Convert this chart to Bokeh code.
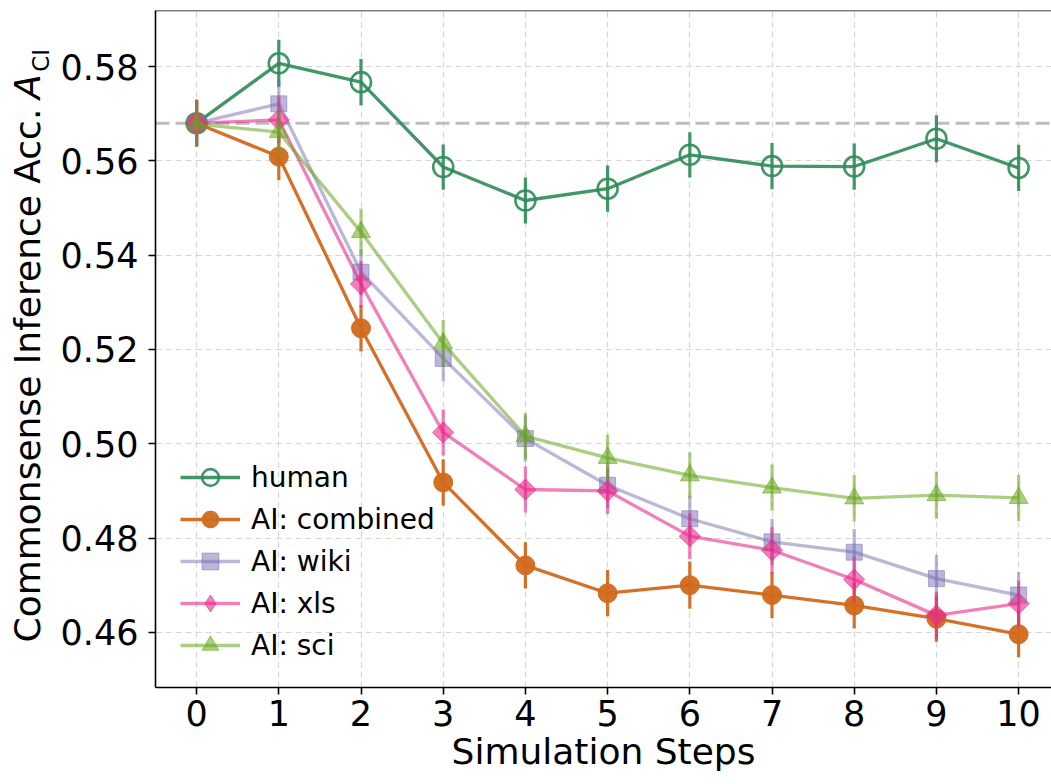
import numpy as np
from bokeh.plotting import figure
from bokeh.layouts import row
from bokeh.models import (Range1d, FixedTicker, PrintfTickFormatter, Span,
                          Legend, LegendItem)
from bokeh.core.properties import value
from bokeh.embed import file_html
from bokeh.resources import INLINE

# ---------------- data ----------------
steps = list(range(11))
y_ticks = [0.46, 0.48, 0.50, 0.52, 0.54, 0.56, 0.58]

human = [0.5680, 0.5807, 0.5767, 0.5587, 0.5516, 0.5541, 0.5613, 0.5589, 0.5588, 0.5647, 0.5585]
human_err = [0.0048, 0.0050, 0.0049, 0.0048, 0.0049, 0.0049, 0.0048, 0.0049, 0.0049, 0.0050, 0.0049]

combined = [0.5680, 0.5609, 0.5245, 0.4918, 0.4742, 0.4683, 0.4700, 0.4679, 0.4657, 0.4629, 0.4596]
combined_err = [0.0050, 0.0050, 0.0049, 0.0049, 0.0049, 0.0049, 0.0050, 0.0049, 0.0049, 0.0049, 0.0049]

wiki = [0.5680, 0.5721, 0.5364, 0.5181, 0.5011, 0.4912, 0.4841, 0.4792, 0.4770, 0.4714, 0.4679]
wiki_err = [0.0048, 0.0049, 0.0049, 0.0049, 0.0049, 0.0049, 0.0049, 0.0049, 0.0049, 0.0050, 0.0049]

xls = [0.5680, 0.5687, 0.5339, 0.5024, 0.4903, 0.4900, 0.4804, 0.4774, 0.4712, 0.4636, 0.4661]
xls_err = [0.0048, 0.0049, 0.0049, 0.0049, 0.0049, 0.0049, 0.0049, 0.0049, 0.0049, 0.0050, 0.0049]

sci = [0.5678, 0.5661, 0.5449, 0.5213, 0.5016, 0.4970, 0.4933, 0.4907, 0.4884, 0.4891, 0.4885]
sci_err = [0.0048, 0.0049, 0.0050, 0.0050, 0.0049, 0.0049, 0.0049, 0.0049, 0.0049, 0.0050, 0.0049]

labels = ["human", "AI: combined", "AI: wiki", "AI: xls", "AI: sci"]
ylabel_parts = ["Commonsense Inference Acc.", "A", "CI"]
baseline = human[0]

FONT = "DejaVu Sans"
W, H = 1051, 784
LEFT_W = 56

# ---------------- main figure ----------------
Y0, Y1 = 0.4483, 0.5919
p = figure(frame_width=896, frame_height=677, x_range=Range1d(-0.5, 10.4), y_range=Range1d(Y0, Y1),
           output_backend="svg", toolbar_location=None,
           min_border_left=155 - LEFT_W, min_border_right=0, min_border_top=10, min_border_bottom=0)
p.outline_line_color = None
p.background_fill_color = "white"
p.border_fill_color = "white"

for ax in (p.xaxis[0], p.yaxis[0]):
    ax.axis_line_color = "black"
    ax.axis_line_width = 1.6
    ax.major_tick_line_color = "black"
    ax.major_tick_line_width = 1.6
    ax.major_tick_out = 7
    ax.major_tick_in = 0
    ax.minor_tick_line_color = None
    ax.major_label_text_font = FONT
    ax.major_label_text_font_size = "35px"
    ax.major_label_text_color = "black"

p.xaxis.ticker = FixedTicker(ticks=steps)
p.yaxis.ticker = FixedTicker(ticks=y_ticks)
p.yaxis.formatter = PrintfTickFormatter(format="%.2f")
p.xaxis.major_label_standoff = 5
p.yaxis.major_label_standoff = 10
p.xaxis.axis_label = "Simulation Steps"
p.xaxis.axis_label_text_font = FONT
p.xaxis.axis_label_text_font_size = "36px"
p.xaxis.axis_label_text_font_style = "normal"
p.xaxis.axis_label_text_color = "black"
p.xaxis.axis_label_standoff = 2

for g in (p.xgrid[0], p.ygrid[0]):
    g.grid_line_color = "#d6d6d6"
    g.grid_line_dash = "6 4"
    g.grid_line_width = 1.2

# top spine
p.add_layout(Span(location=Y1, dimension="width", line_color="black", line_width=1.6))
# baseline dashed line
p.add_layout(Span(location=baseline, dimension="width", line_color="#bdbdbd",
                  line_width=3, line_dash="14 6", level="underlay"))


def draw(vals, errs, color, alpha, marker, size, filled, angle=0.0):
    lo = [v - e for v, e in zip(vals, errs)]
    hi = [v + e for v, e in zip(vals, errs)]
    p.segment(x0=steps, y0=lo, x1=steps, y1=hi, line_color=color,
              line_alpha=alpha, line_width=3.2)
    ln = p.line(steps, vals, line_color=color, line_alpha=alpha, line_width=3.3)
    if filled:
        sc = p.scatter(steps, vals, marker=marker, size=size, angle=angle,
                       line_color=color, line_alpha=alpha, line_width=1,
                       fill_color=color, fill_alpha=alpha)
    else:
        sc = p.scatter(steps, vals, marker=marker, size=size, angle=angle,
                       line_color=color, line_alpha=alpha, line_width=2.6,
                       fill_color=None)
    return ln, sc


C_H, C_C, C_W, C_X, C_S = "#2e8b57", "#d2691e", "#7570b3", "#e7298a", "#66a61e"
h_ln, h_sc = draw(human, human_err, C_H, 0.9, "circle", 20, False)
c_ln, c_sc = draw(combined, combined_err, C_C, 0.95, "circle", 19, True)
w_ln, w_sc = draw(wiki, wiki_err, C_W, 0.5, "square", 16, True)
x_ln, x_sc = draw(xls, xls_err, C_X, 0.6, "square", 15, True, angle=np.pi / 4)
s_ln, s_sc = draw(sci, sci_err, C_S, 0.55, "triangle", 19, True)

# legend-only diamond glyph for the xls entry (a single NaN point, never drawn in the plot)
x_leg = p.scatter(x=[np.nan], y=[np.nan], marker="diamond", size=20, line_color=C_X,
                  line_alpha=0.6, line_width=1, fill_color=C_X, fill_alpha=0.6)

legend = Legend(
    items=[LegendItem(label=labels[0], renderers=[h_ln, h_sc]),
           LegendItem(label=labels[1], renderers=[c_ln, c_sc]),
           LegendItem(label=labels[2], renderers=[w_ln, w_sc]),
           LegendItem(label=labels[3], renderers=[x_ln, x_leg]),
           LegendItem(label=labels[4], renderers=[s_ln, s_sc])],
    location=(25, 21), orientation="vertical",
    glyph_width=60, glyph_height=42, label_height=42, spacing=0, padding=0,
    label_standoff=11, label_text_font=FONT, label_text_font_size="28px",
    label_text_color="black",
    background_fill_alpha=0, border_line_color=None)
p.add_layout(legend)

# ---------------- left strip holding the rotated y-axis label ----------------
lf = figure(width=LEFT_W, height=H, x_range=Range1d(0, LEFT_W), y_range=Range1d(0, H),
            output_backend="svg", toolbar_location=None, min_border=0)
lf.axis.visible = False
lf.grid.visible = False
lf.outline_line_color = None
lf.background_fill_color = "white"
lf.border_fill_color = "white"

# positions in strip pixels (y measured upward from the bottom of the page)
lf.text(x=[27], y=[H - 112], text=[ylabel_parts[0]], angle=np.pi / 2,
        text_align="right", text_baseline="alphabetic", text_color="black",
        text_font=value(FONT), text_font_size="36px")
lf.text(x=[27], y=[H - 101], text=[ylabel_parts[1]], angle=np.pi / 2,
        text_align="left", text_baseline="alphabetic", text_color="black",
        text_font=value(FONT), text_font_style="italic", text_font_size="36px")
lf.text(x=[40], y=[H - 70], text=[ylabel_parts[2]], angle=np.pi / 2,
        text_align="left", text_baseline="alphabetic", text_color="black",
        text_font=value(FONT), text_font_size="23px")

layout = row(lf, p)
open("out.html", "w").write(file_html(layout, INLINE))
